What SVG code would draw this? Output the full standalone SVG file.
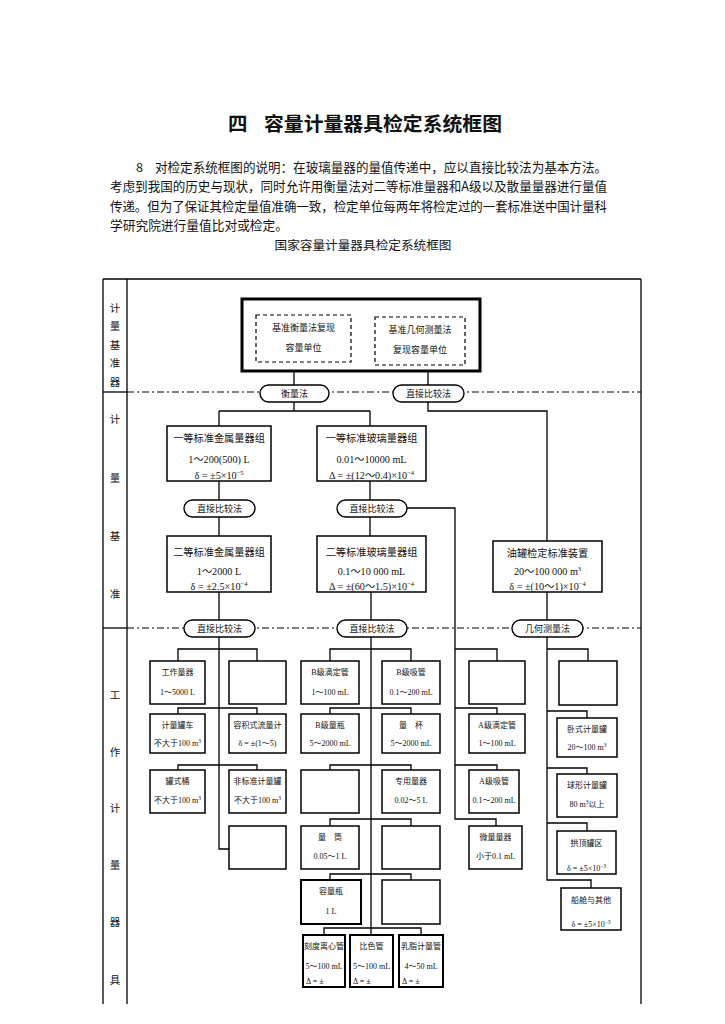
<svg xmlns="http://www.w3.org/2000/svg" width="725" height="1024" viewBox="0 0 725 1024">
<style>
.bg{fill:#fff}
.ln{stroke:#000;stroke-width:1.3;fill:none}
.dd{stroke:#000;stroke-width:1;fill:none;stroke-dasharray:7 3 2 3}
.bx{fill:#fff;stroke:#000;stroke-width:1.5}
.thick{fill:#fff;stroke:#000;stroke-width:3}
.dsh{fill:none;stroke:#000;stroke-width:1.2;stroke-dasharray:4 3}
.ov{fill:#fff;stroke:#000;stroke-width:1.4}
text{font-family:"Liberation Serif","Noto Sans CJK SC",sans-serif;fill:#111;text-anchor:middle}
.cj{font-family:"Noto Sans CJK SC",sans-serif}
.title{font-size:19.5px;font-weight:bold;text-anchor:start}
.para{font-size:12.6px;text-anchor:start;font-family:"Noto Sans CJK SC",sans-serif}
.sub{font-size:12.5px;font-family:"Noto Sans CJK SC",sans-serif}
.side{font-size:10.5px;font-family:"Noto Sans CJK SC",sans-serif}
.b{font-size:10.2px}
.s{font-size:8px}
.o{font-size:9px;font-family:"Noto Sans CJK SC",sans-serif}
.l{text-anchor:start}
</style>
<rect class="bg" x="0" y="0" width="725" height="1024"/>

<g id="heading">
<text class="title cj" x="228" y="131">四</text>
<text class="title cj" x="264" y="131" textLength="238" lengthAdjust="spacingAndGlyphs">容量计量器具检定系统框图</text>
<text class="para" x="136" y="172">8</text>
<text class="para" x="155" y="172" textLength="452" lengthAdjust="spacingAndGlyphs">对检定系统框图的说明：在玻璃量器的量值传递中，应以直接比较法为基本方法。</text>
<text class="para" x="110" y="191" textLength="497" lengthAdjust="spacingAndGlyphs">考虑到我国的历史与现状，同时允许用衡量法对二等标准量器和A级以及散量量器进行量值</text>
<text class="para" x="110" y="211" textLength="497" lengthAdjust="spacingAndGlyphs">传递。但为了保证其检定量值准确一致，检定单位每两年将检定过的一套标准送中国计量科</text>
<text class="para" x="110" y="230" textLength="178" lengthAdjust="spacingAndGlyphs">学研究院进行量值比对或检定。</text>
<text class="sub" x="363" y="250" textLength="177" lengthAdjust="spacingAndGlyphs">国家容量计量器具检定系统框图</text>
</g>

<g id="frame">
<line class="ln" x1="103" y1="279" x2="641" y2="279"/>
<line class="ln" x1="103" y1="279" x2="103" y2="1004"/>
<line class="ln" x1="127" y1="279" x2="127" y2="1004"/>
<line class="ln" x1="641" y1="279" x2="641" y2="1004"/>
<line class="ln" x1="103" y1="392" x2="127" y2="392"/>
<line class="ln" x1="103" y1="628" x2="127" y2="628"/>
<line class="dd" x1="127" y1="392" x2="641" y2="392"/>
<line class="dd" x1="127" y1="628" x2="641" y2="628"/>
<text class="side" x="115" y="312">计</text>
<text class="side" x="115" y="330">量</text>
<text class="side" x="115" y="349">基</text>
<text class="side" x="115" y="367">准</text>
<text class="side" x="115" y="386">器</text>
<text class="side" x="115" y="423">计</text>
<text class="side" x="115" y="482">量</text>
<text class="side" x="115" y="540">基</text>
<text class="side" x="115" y="598">准</text>
<text class="side" x="115" y="699">工</text>
<text class="side" x="115" y="756">作</text>
<text class="side" x="115" y="812">计</text>
<text class="side" x="115" y="869">量</text>
<text class="side" x="115" y="926">器</text>
<text class="side" x="115" y="984">具</text>
</g>

<g id="connectors">
<path class="ln" d="M294 371V385M294 402V411M219 411H370M219 411V426M370 411V426"/>
<path class="ln" d="M428 371V385M428 402V411H547V541"/>
<path class="ln" d="M219 481V500M219 517V536M370 481V500M370 517V536M407 508H455V819H496V826"/>
<path class="ln" d="M219 592V620M371 592V620M547 592V620"/>
<path class="ln" d="M219 637V849H229"/>
<path class="ln" d="M178 661V649H257V661M178 714V708H257V714M178 770V765H257V770"/>
<path class="ln" d="M371 637V935"/>
<path class="ln" d="M330 661V649H411V661M330 714V708H411V714M330 770V765H411V770M330 826V819H411V826M330 880V874H411V880M324 935V928H421V935"/>
<path class="ln" d="M455 649H497V661M455 708H497V714M455 765H497V770"/>
<path class="ln" d="M547 637V880H591V888M547 649H588V661M547 711H587V718M547 768H587V774M547 823H587V831"/>
</g>

<g id="primary">
<rect class="thick" x="242" y="299" width="238" height="72"/>
<rect class="dsh" x="256" y="315" width="95" height="47"/>
<rect class="dsh" x="375" y="317" width="90" height="48"/>
<text class="s cj" x="303.5" y="331" style="font-size:9px">基准衡量法复现</text>
<text class="s cj" x="303.5" y="351" style="font-size:9px">容量单位</text>
<text class="s cj" x="420" y="333" style="font-size:9px">基准几何测量法</text>
<text class="s cj" x="420" y="353" style="font-size:9px">复现容量单位</text>
</g>

<g id="oval-1"><rect class="ov" x="260" y="385" width="69" height="17" rx="8.5"/><text class="o" x="294.5" y="397">衡量法</text></g>
<g id="oval-2"><rect class="ov" x="393" y="385" width="71" height="17" rx="8.5"/><text class="o" x="428.5" y="397">直接比较法</text></g>

<g id="std1-metal"><rect class="bx" x="167" y="426" width="104" height="55"/>
<text class="b" x="219" y="442">一等标准金属量器组</text>
<text class="b" x="219" y="463">1～200(500) L</text>
<text class="b" x="219" y="479">δ = ±5×10<tspan dy="-4" font-size="6.5">−5</tspan></text></g>
<g id="std1-glass"><rect class="bx" x="317" y="426" width="109" height="55"/>
<text class="b" x="371.5" y="442">一等标准玻璃量器组</text>
<text class="b" x="371.5" y="463">0.01～10000 mL</text>
<text class="b" x="371.5" y="479">Δ = ±(12～0.4)×10<tspan dy="-4" font-size="6.5">−4</tspan></text></g>

<g id="oval-3"><rect class="ov" x="184" y="500" width="71" height="17" rx="8.5"/><text class="o" x="219.5" y="512">直接比较法</text></g>
<g id="oval-4"><rect class="ov" x="337" y="500" width="70" height="17" rx="8.5"/><text class="o" x="372" y="512">直接比较法</text></g>

<g id="std2-metal"><rect class="bx" x="167" y="536" width="104" height="56"/>
<text class="b" x="219" y="556">二等标准金属量器组</text>
<text class="b" x="219" y="575">1～2000 L</text>
<text class="b" x="219" y="590">δ = ±2.5×10<tspan dy="-4" font-size="6.5">−4</tspan></text></g>
<g id="std2-glass"><rect class="bx" x="317" y="536" width="109" height="56"/>
<text class="b" x="371.5" y="556">二等标准玻璃量器组</text>
<text class="b" x="371.5" y="575">0.1～10 000 mL</text>
<text class="b" x="371.5" y="590">Δ = ±(60～1.5)×10<tspan dy="-4" font-size="6.5">−4</tspan></text></g>
<g id="tank-std"><rect class="bx" x="493" y="541" width="109" height="51"/>
<text class="b" x="547.5" y="557">油罐检定标准装置</text>
<text class="b" x="547.5" y="575">20～100 000 m<tspan dy="-4" font-size="6.5">3</tspan></text>
<text class="b" x="547.5" y="590">δ = ±(10～1)×10<tspan dy="-4" font-size="6.5">−4</tspan></text></g>

<g id="oval-5"><rect class="ov" x="184" y="620" width="71" height="17" rx="8.5"/><text class="o" x="219.5" y="632">直接比较法</text></g>
<g id="oval-6"><rect class="ov" x="337" y="620" width="70" height="17" rx="8.5"/><text class="o" x="372" y="632">直接比较法</text></g>
<g id="oval-7"><rect class="ov" x="512" y="620" width="71" height="17" rx="8.5"/><text class="o" x="547.5" y="632">几何测量法</text></g>

<g id="w-gongzuo"><rect class="bx" x="150" y="661" width="55" height="43"/><text class="s" x="177.5" y="675">工作量器</text><text class="s" x="177.5" y="695">1～5000 L</text></g>
<g id="w-empty1"><rect class="bx" x="229" y="661" width="57" height="43"/></g>
<g id="w-guanche"><rect class="bx" x="150" y="714" width="55" height="39"/><text class="s" x="177.5" y="728">计量罐车</text><text class="s" x="177.5" y="746">不大于100 m<tspan dy="-3" font-size="5.5">3</tspan></text></g>
<g id="w-liuliangji"><rect class="bx" x="229" y="714" width="57" height="39"/><text class="s" x="257.5" y="728">容积式流量计</text><text class="s" x="257.5" y="746">δ = ±(1～5)</text></g>
<g id="w-guantong"><rect class="bx" x="150" y="770" width="55" height="43"/><text class="s" x="177.5" y="784">罐式桶</text><text class="s" x="177.5" y="803">不大于100 m<tspan dy="-3" font-size="5.5">3</tspan></text></g>
<g id="w-feibiao"><rect class="bx" x="229" y="770" width="57" height="43"/><text class="s" x="257.5" y="784">非标准计量罐</text><text class="s" x="257.5" y="803">不大于100 m<tspan dy="-3" font-size="5.5">3</tspan></text></g>
<g id="w-empty2"><rect class="bx" x="229" y="826" width="57" height="43"/></g>

<g id="w-bdiding"><rect class="bx" x="301" y="661" width="58" height="43"/><text class="s" x="330" y="675">B级滴定管</text><text class="s" x="330" y="695">1～100 mL</text></g>
<g id="w-bxiguan"><rect class="bx" x="382" y="661" width="58" height="43"/><text class="s" x="411" y="675">B级吸管</text><text class="s" x="411" y="695">0.1～200 mL</text></g>
<g id="w-bliangping"><rect class="bx" x="301" y="714" width="58" height="39"/><text class="s" x="330" y="728">B级量瓶</text><text class="s" x="330" y="746">5～2000 mL</text></g>
<g id="w-liangbei"><rect class="bx" x="382" y="714" width="58" height="39"/><text class="s" x="411" y="728">量　杯</text><text class="s" x="411" y="746">5～2000 mL</text></g>
<g id="w-empty3"><rect class="bx" x="301" y="770" width="58" height="43"/></g>
<g id="w-zhuanyong"><rect class="bx" x="382" y="770" width="58" height="43"/><text class="s" x="411" y="784">专用量器</text><text class="s" x="411" y="803">0.02～5 L</text></g>
<g id="w-liangtong"><rect class="bx" x="301" y="826" width="58" height="43"/><text class="s" x="330" y="840">量　筒</text><text class="s" x="330" y="859">0.05～1 L</text></g>
<g id="w-empty4"><rect class="bx" x="382" y="826" width="58" height="43"/></g>
<g id="w-rongliangping"><rect class="bx" x="301" y="880" width="60" height="44" style="stroke-width:2"/><text class="s" x="331" y="894">容量瓶</text><text class="s" x="331" y="914">1 L</text></g>
<g id="w-empty5"><rect class="bx" x="382" y="880" width="58" height="44"/></g>
<g id="w-lixin"><rect class="bx" x="303" y="935" width="42" height="52" style="stroke-width:2"/><text class="s" x="324" y="949">刻度离心管</text><text class="s" x="324" y="969">5～100 mL</text><text class="s l" x="306" y="984">Δ = ±</text></g>
<g id="w-bise"><rect class="bx" x="350" y="935" width="43" height="52" style="stroke-width:2"/><text class="s" x="371.5" y="949">比色管</text><text class="s" x="371.5" y="969">5～100 mL</text><text class="s l" x="353" y="984">Δ = ±</text></g>
<g id="w-ruzhi"><rect class="bx" x="399" y="935" width="44" height="52" style="stroke-width:2"/><text class="s" x="421" y="949">乳脂计量管</text><text class="s" x="421" y="969">4～50 mL</text><text class="s l" x="402" y="984">Δ = ±</text></g>

<g id="w-empty6"><rect class="bx" x="469" y="661" width="56" height="43"/></g>
<g id="w-adiding"><rect class="bx" x="469" y="714" width="56" height="39"/><text class="s" x="497" y="728">A级滴定管</text><text class="s" x="497" y="746">1～100 mL</text></g>
<g id="w-axiguan"><rect class="bx" x="469" y="770" width="50" height="43"/><text class="s" x="494" y="784">A级吸管</text><text class="s" x="494" y="803">0.1～200 mL</text></g>
<g id="w-weiliang"><rect class="bx" x="469" y="826" width="53" height="43"/><text class="s" x="495.5" y="840">微量量器</text><text class="s" x="495.5" y="859">小于0.1 mL</text></g>

<g id="w-empty7"><rect class="bx" x="559" y="661" width="58" height="44"/></g>
<g id="w-woshi"><rect class="bx" x="557" y="718" width="60" height="39"/><text class="s" x="587" y="732">卧式计量罐</text><text class="s" x="587" y="750">20～100 m<tspan dy="-3" font-size="5.5">3</tspan></text></g>
<g id="w-qiuxing"><rect class="bx" x="557" y="774" width="60" height="43"/><text class="s" x="587" y="788">球形计量罐</text><text class="s" x="587" y="807">80 m<tspan dy="-3" font-size="5.5">3</tspan><tspan dy="3">以上</tspan></text></g>
<g id="w-gongding"><rect class="bx" x="557" y="831" width="59" height="43"/><text class="s" x="586.5" y="846">拱顶罐区</text><text class="s" x="586.5" y="871">δ = ±5×10<tspan dy="-3" font-size="5.5">−3</tspan></text></g>
<g id="w-chuancang"><rect class="bx" x="561" y="888" width="60" height="42"/><text class="s" x="591" y="903">船舱与其他</text><text class="s" x="591" y="927">δ = ±5×10<tspan dy="-3" font-size="5.5">−3</tspan></text></g>
</svg>
